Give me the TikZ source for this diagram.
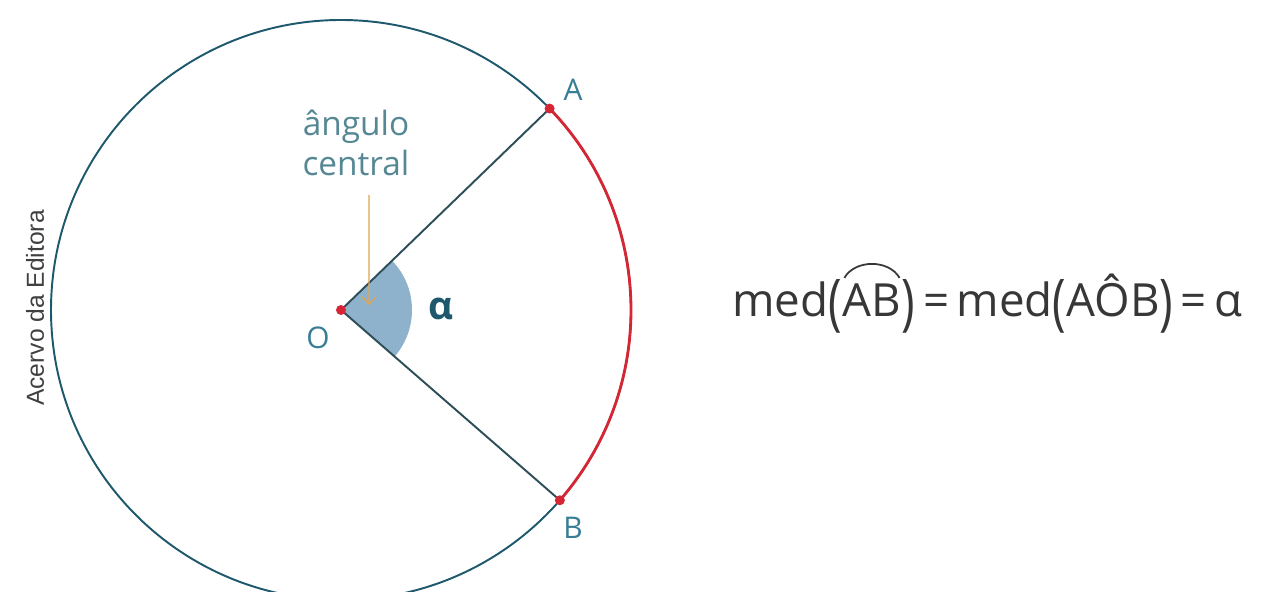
\documentclass[tikz,border=0pt]{standalone}
\usepackage{graphicx}
\usepackage{fontspec}
\setmainfont{Open Sans}
\newfontfamily\creditfont{Liberation Sans}
\usetikzlibrary{arrows.meta}

\definecolor{circblue}{RGB}{30,88,108}
\definecolor{raygray}{RGB}{45,78,88}
\definecolor{labelteal}{RGB}{55,125,150}
\definecolor{notegray}{RGB}{85,135,148}
\definecolor{sectorblue}{RGB}{143,178,204}
\definecolor{arcred}{RGB}{212,38,52}
\definecolor{pointer}{RGB}{222,165,85}
\definecolor{eqgray}{RGB}{55,55,55}

\newcommand{\tallparen}[1]{\raisebox{-0.14em}{\scalebox{1}[1.35]{#1}}}

\begin{document}
\begin{tikzpicture}[
    dot/.style={circle, fill=arcred, inner sep=0pt, minimum size=0.2cm},
    ray/.style={raygray, line width=1.1pt},
    lbl/.style={text=labelteal, font=\fontsize{17}{20}\selectfont},
    eq/.style={anchor=base west, inner sep=0pt, text=eqgray, font=\fontsize{26}{30}\selectfont}
]
    \useasboundingbox (0,0) rectangle (25.26,11.84);

    % Draw points
    \coordinate (O) at (6.82,5.64);
    \coordinate (A) at ([shift={(44:5.8)}]O);
    \coordinate (B) at ([shift={(-41:5.8)}]O);

    % Draw angle
    \fill[sectorblue] (O) -- ([shift={(-41:1.42)}]O) arc[start angle=-41, end angle=44, radius=1.42] -- cycle;

    % Draw circle and arc
    \draw[circblue, line width=1.1pt] (O) circle (5.8);
    \draw[arcred, line width=1.6pt] (A) arc[start angle=44, end angle=-41, radius=5.8];

    % Draw radii
    \draw[ray] (O) -- (A);
    \draw[ray] (O) -- (B);

    % Draw note
    \node[text=notegray, align=center, font=\fontsize{19}{23}\selectfont] (note) at (7.12,8.98) {ângulo\\central};
    \coordinate (tip) at (7.38,5.74);
    \draw[pointer, line width=0.8pt, -{Straight Barb[length=4pt]}] ([xshift=0.26cm, yshift=-0.25cm]note.south) -- (tip);

    % Draw dots
    \node[dot] (Odot) at (O) {};
    \node[dot] (Adot) at (A) {};
    \node[dot] (Bdot) at (B) {};

    % Labels
    \node[lbl] (Alabel) at (11.46,10.04) {A};
    \node[lbl] (Blabel) at (11.46,1.28) {B};
    \node[lbl] (Olabel) at (6.36,5.08) {O};
    \node[text=circblue, font=\fontsize{22}{26}\selectfont\bfseries] (alpha) at (8.82,5.66) {α};
    \node[rotate=90, text=black!75, font=\creditfont\fontsize{14}{16}\selectfont] (credit) at (0.7,5.68) {Acervo da Editora};

    % Draw equation
    \node[eq] (lhs) at (14.64,5.5) {med\tallparen{(}};
    \node[eq] (ab) at (lhs.base east) {AB};
    \node[eq] (rhs) at (ab.base east) {\tallparen{)}\,=\,med\tallparen{(}AÔB\tallparen{)}\,=\,α};
    \draw[eqgray, line width=1pt] ([shift={(0.04,0.12)}]ab.north west) to[bend left=60] ([shift={(-0.04,0.12)}]ab.north east);
\end{tikzpicture}
\end{document}
